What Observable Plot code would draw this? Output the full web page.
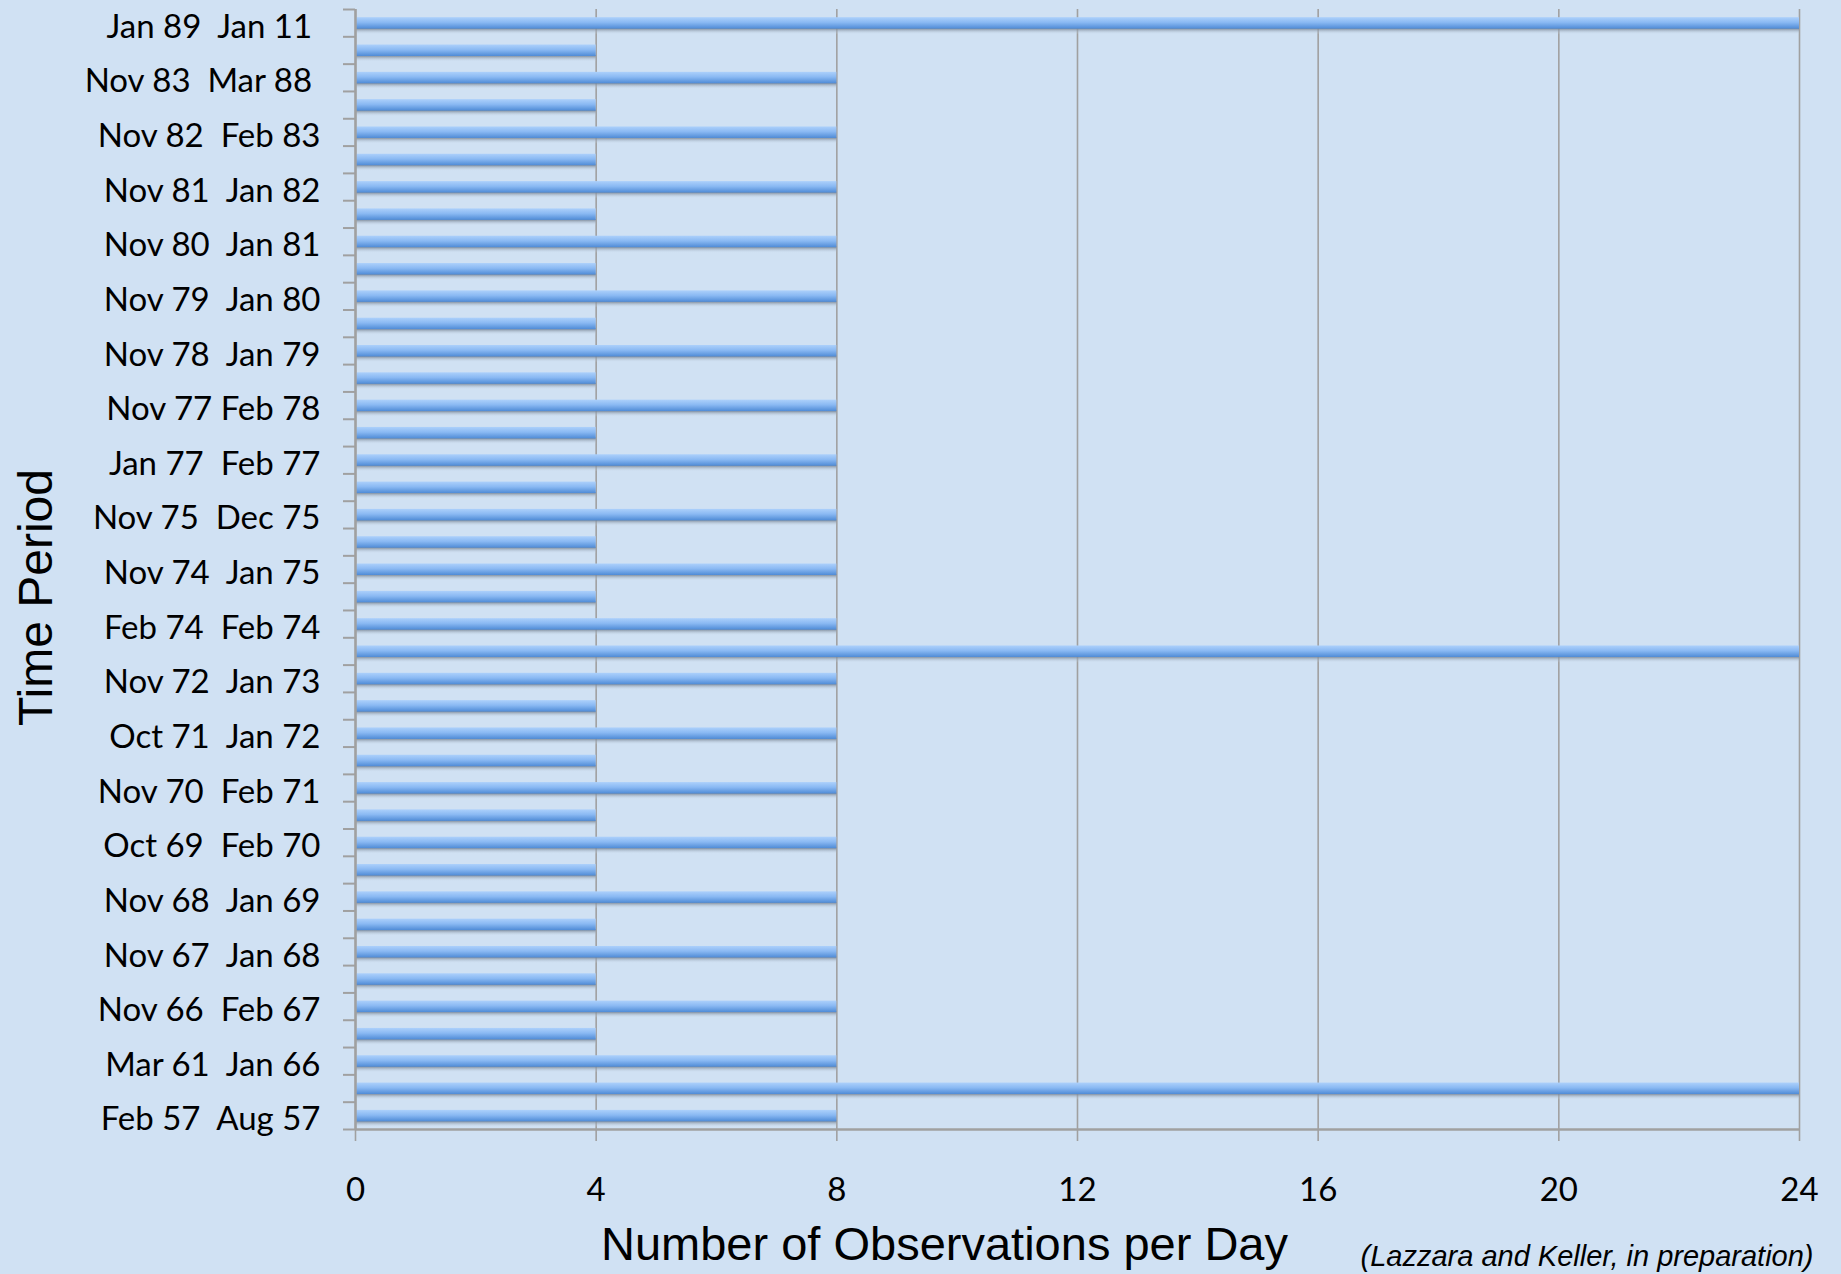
<!DOCTYPE html>
<html>
<head>
<meta charset="utf-8">
<script src="https://cdn.jsdelivr.net/npm/d3@7"></script>
<script src="https://cdn.jsdelivr.net/npm/@observablehq/plot@0.6"></script>
<style>
  html, body { margin: 0; padding: 0; background: #d0e1f3; }
  #chart svg { display: block; }
</style>
</head>
<body>
<div id="chart"></div>
<script>
// Row labels, top to bottom ("" = unlabeled row between periods)
const rowLabels = [
  "Jan 89\u00a0\u00a0Jan 11\u00a0", "",
  "Nov 83\u00a0\u00a0Mar 88\u00a0", "",
  "Nov 82\u00a0\u00a0Feb 83", "",
  "Nov 81\u00a0\u00a0Jan 82", "",
  "Nov 80\u00a0\u00a0Jan 81", "",
  "Nov 79\u00a0\u00a0Jan 80", "",
  "Nov 78\u00a0\u00a0Jan 79", "",
  "Nov 77 Feb 78", "",
  "Jan 77\u00a0\u00a0Feb 77", "",
  "Nov 75\u00a0\u00a0Dec 75", "",
  "Nov 74\u00a0\u00a0Jan 75", "",
  "Feb 74\u00a0\u00a0Feb 74", "",
  "Nov 72\u00a0\u00a0Jan 73", "",
  "Oct 71\u00a0\u00a0Jan 72", "",
  "Nov 70\u00a0\u00a0Feb 71", "",
  "Oct 69\u00a0\u00a0Feb 70", "",
  "Nov 68\u00a0\u00a0Jan 69", "",
  "Nov 67\u00a0\u00a0Jan 68", "",
  "Nov 66\u00a0\u00a0Feb 67", "",
  "Mar 61\u00a0\u00a0Jan 66", "",
  "Feb 57\u00a0\u00a0Aug 57"
];
// Observations per day, same order (top to bottom)
const obsPerDay = [
  24, 4,
  8, 4,
  8, 4,
  8, 4,
  8, 4,
  8, 4,
  8, 4,
  8, 4,
  8, 4,
  8, 4,
  8, 4,
  8, 24,
  8, 4,
  8, 4,
  8, 4,
  8, 4,
  8, 4,
  8, 4,
  8, 4,
  8, 24,
  8
];
const xTicks = [0, 4, 8, 12, 16, 20, 24];
const xTitle = "Number of Observations per Day";
const yTitle = "Time Period";
const caption = "(Lazzara and Keller, in preparation)";

const rows = rowLabels.map((label, i) => ({i, label, value: obsPerDay[i]}));
const labeledTicks = rows.filter(d => d.label !== "").map(d => d.i + 0.5);
const nRows = rows.length;

const gray = "#a0a0a0";

const plot = Plot.plot({
  width: 1841,
  height: 1274,
  marginLeft: 355,
  marginRight: 42,
  marginTop: 9,
  marginBottom: 145,
  style: {background: "#d0e1f3", fontFamily: "Lato", color: "black"},
  x: {domain: [0, 24]},
  y: {domain: [0, nRows], reverse: true},
  marks: [
    Plot.gridX(xTicks, {stroke: gray, strokeOpacity: 1, strokeWidth: 1.6}),
    // bar shadow
    Plot.rectX(rows, {x: "value", y1: d => d.i + 0.69, y2: d => d.i + 0.93, fill: "url(#shadowGrad)"}),
    // bars
    Plot.rectX(rows, {x: "value", y1: d => d.i + 0.30, y2: d => d.i + 0.72, fill: "url(#barGrad)"}),
    Plot.ruleX([0], {stroke: gray, strokeWidth: 2.5}),
    Plot.ruleY([nRows], {stroke: gray, strokeWidth: 2.5}),
    Plot.axisX({ticks: xTicks, tickSize: 12, tickPadding: 36, stroke: gray, strokeWidth: 1.6, fontSize: 33, label: null}),
    Plot.axisY({ticks: d3.range(nRows + 1), tickSize: 12, tickFormat: () => "", stroke: gray, strokeWidth: 2, label: null}),
    Plot.axisY({ticks: labeledTicks, tickSize: 0, tickPadding: 35, tickFormat: v => rowLabels[Math.floor(v)], fontSize: 33, dy: 4, label: null}),
    Plot.text([yTitle], {text: d => d, frameAnchor: "left", rotate: -90, lineAnchor: "bottom", textAnchor: "middle",
      dx: -304, dy: 28, fontSize: 48, fontFamily: "Liberation Sans", fill: "black"}),
    Plot.text([xTitle], {text: d => d, frameAnchor: "bottom", lineAnchor: "bottom", textAnchor: "middle",
      dx: -133, dy: 130, fontSize: 47, fontFamily: "Liberation Sans", fill: "black"}),
    Plot.text([caption], {text: d => d, frameAnchor: "bottom-right", lineAnchor: "bottom", textAnchor: "end",
      dx: 14, dy: 136, fontSize: 29, fontStyle: "italic", fontFamily: "Liberation Sans", fill: "black"})
  ]
});

// gradient definitions for the bars and their soft shadow
const defs = d3.select(plot).insert("defs", ":first-child");
const bg = defs.append("linearGradient").attr("id", "barGrad").attr("x1", 0).attr("y1", 0).attr("x2", 0).attr("y2", 1);
bg.append("stop").attr("offset", "0%").attr("stop-color", "#acd0fb");
bg.append("stop").attr("offset", "45%").attr("stop-color", "#8ab9f3");
bg.append("stop").attr("offset", "100%").attr("stop-color", "#4f8bd6");
const sg = defs.append("linearGradient").attr("id", "shadowGrad").attr("x1", 0).attr("y1", 0).attr("x2", 0).attr("y2", 1);
sg.append("stop").attr("offset", "0%").attr("stop-color", "#6f7b8a").attr("stop-opacity", 1);
sg.append("stop").attr("offset", "100%").attr("stop-color", "#d0e1f3").attr("stop-opacity", 0);

document.getElementById("chart").appendChild(plot);
</script>
</body>
</html>
